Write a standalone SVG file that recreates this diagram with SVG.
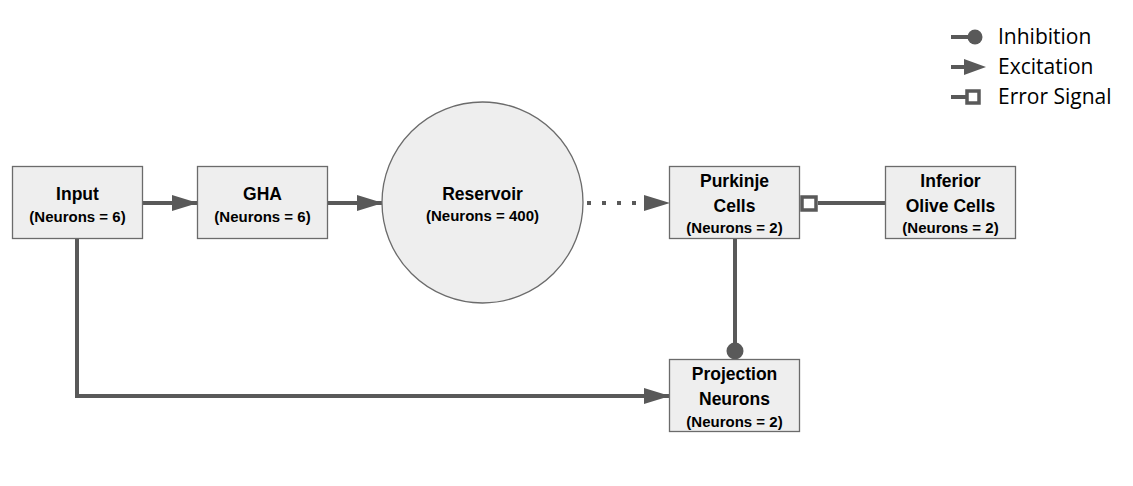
<svg xmlns="http://www.w3.org/2000/svg" width="1133" height="486" viewBox="0 0 1133 486">
<style>
.box{fill:#eeeeee;stroke:#6b6b6b;stroke-width:1.3}
.t{font-family:"Liberation Sans",Arial,sans-serif;font-weight:bold;fill:#000;text-anchor:middle}
.t1{font-size:17.5px}
.t2{font-size:15px}
.ln{stroke:#595959;stroke-width:4;fill:none}
.lg{font-family:"Open Sans","Liberation Sans",sans-serif;font-size:21px;fill:#000}
</style>
<defs>
<marker id="arr" markerWidth="26" markerHeight="16" refX="25" refY="8" orient="auto" markerUnits="userSpaceOnUse">
<path d="M0,0 L26,8 L0,16 Z" fill="#595959"/>
</marker>
</defs>
<rect width="1133" height="486" fill="#ffffff"/>
<g id="connectors">
<line class="ln" x1="143" y1="203" x2="197" y2="203" marker-end="url(#arr)"/>
<line class="ln" x1="327" y1="203" x2="382" y2="203" marker-end="url(#arr)"/>
<line x1="587" y1="203" x2="646" y2="203" stroke="#595959" stroke-width="4" stroke-dasharray="4,11"/>
<path d="M644,195 L670,203 L644,211 Z" fill="#595959"/>
<line class="ln" x1="818" y1="203" x2="886" y2="203"/>
<rect x="802" y="197" width="14" height="13" fill="#ffffff" stroke="#595959" stroke-width="3.5"/>
<line class="ln" x1="735" y1="238" x2="735" y2="348"/>
<circle cx="735" cy="351" r="8.5" fill="#595959"/>
<path class="ln" d="M77,238 L77,396 L669,396" marker-end="url(#arr)"/>
</g>
<g id="input">
<rect class="box" x="12.5" y="166.5" width="130" height="72"/>
<text class="t t1" x="77.5" y="200">Input</text>
<text class="t t2" x="77.5" y="222">(Neurons = 6)</text>
</g>
<g id="gha">
<rect class="box" x="197.5" y="166.5" width="130" height="72"/>
<text class="t t1" x="262.5" y="200">GHA</text>
<text class="t t2" x="262.5" y="222">(Neurons = 6)</text>
</g>
<g id="reservoir">
<circle cx="482.5" cy="202.5" r="100.5" fill="#eeeeee" stroke="#6b6b6b" stroke-width="1.3"/>
<text class="t t1" x="482.5" y="200">Reservoir</text>
<text class="t t2" x="482.5" y="221">(Neurons = 400)</text>
</g>
<g id="purkinje">
<rect class="box" x="669.5" y="166.5" width="130" height="72"/>
<text class="t t1" x="734.5" y="187">Purkinje</text>
<text class="t t1" x="734.5" y="212">Cells</text>
<text class="t t2" x="734.5" y="233">(Neurons = 2)</text>
</g>
<g id="inferior">
<rect class="box" x="885.5" y="166.5" width="130" height="72"/>
<text class="t t1" x="950.5" y="187">Inferior</text>
<text class="t t1" x="950.5" y="212">Olive Cells</text>
<text class="t t2" x="950.5" y="233">(Neurons = 2)</text>
</g>
<g id="projection">
<rect class="box" x="669.5" y="359.5" width="130" height="72"/>
<text class="t t1" x="734.5" y="380">Projection</text>
<text class="t t1" x="734.5" y="405">Neurons</text>
<text class="t t2" x="734.5" y="427">(Neurons = 2)</text>
</g>
<g id="legend">
<line class="ln" x1="951" y1="37" x2="970" y2="37"/>
<circle cx="975" cy="37" r="7.5" fill="#595959"/>
<line class="ln" x1="951" y1="67" x2="966" y2="67"/>
<path d="M964,59 L986,67 L964,75 Z" fill="#595959"/>
<line class="ln" x1="951" y1="97" x2="966" y2="97"/>
<rect x="967" y="91" width="12" height="12" fill="#ffffff" stroke="#595959" stroke-width="3.5"/>
<text class="lg" x="998" y="44">Inhibition</text>
<text class="lg" x="998" y="74">Excitation</text>
<text class="lg" x="998" y="104">Error Signal</text>
</g>
</svg>
